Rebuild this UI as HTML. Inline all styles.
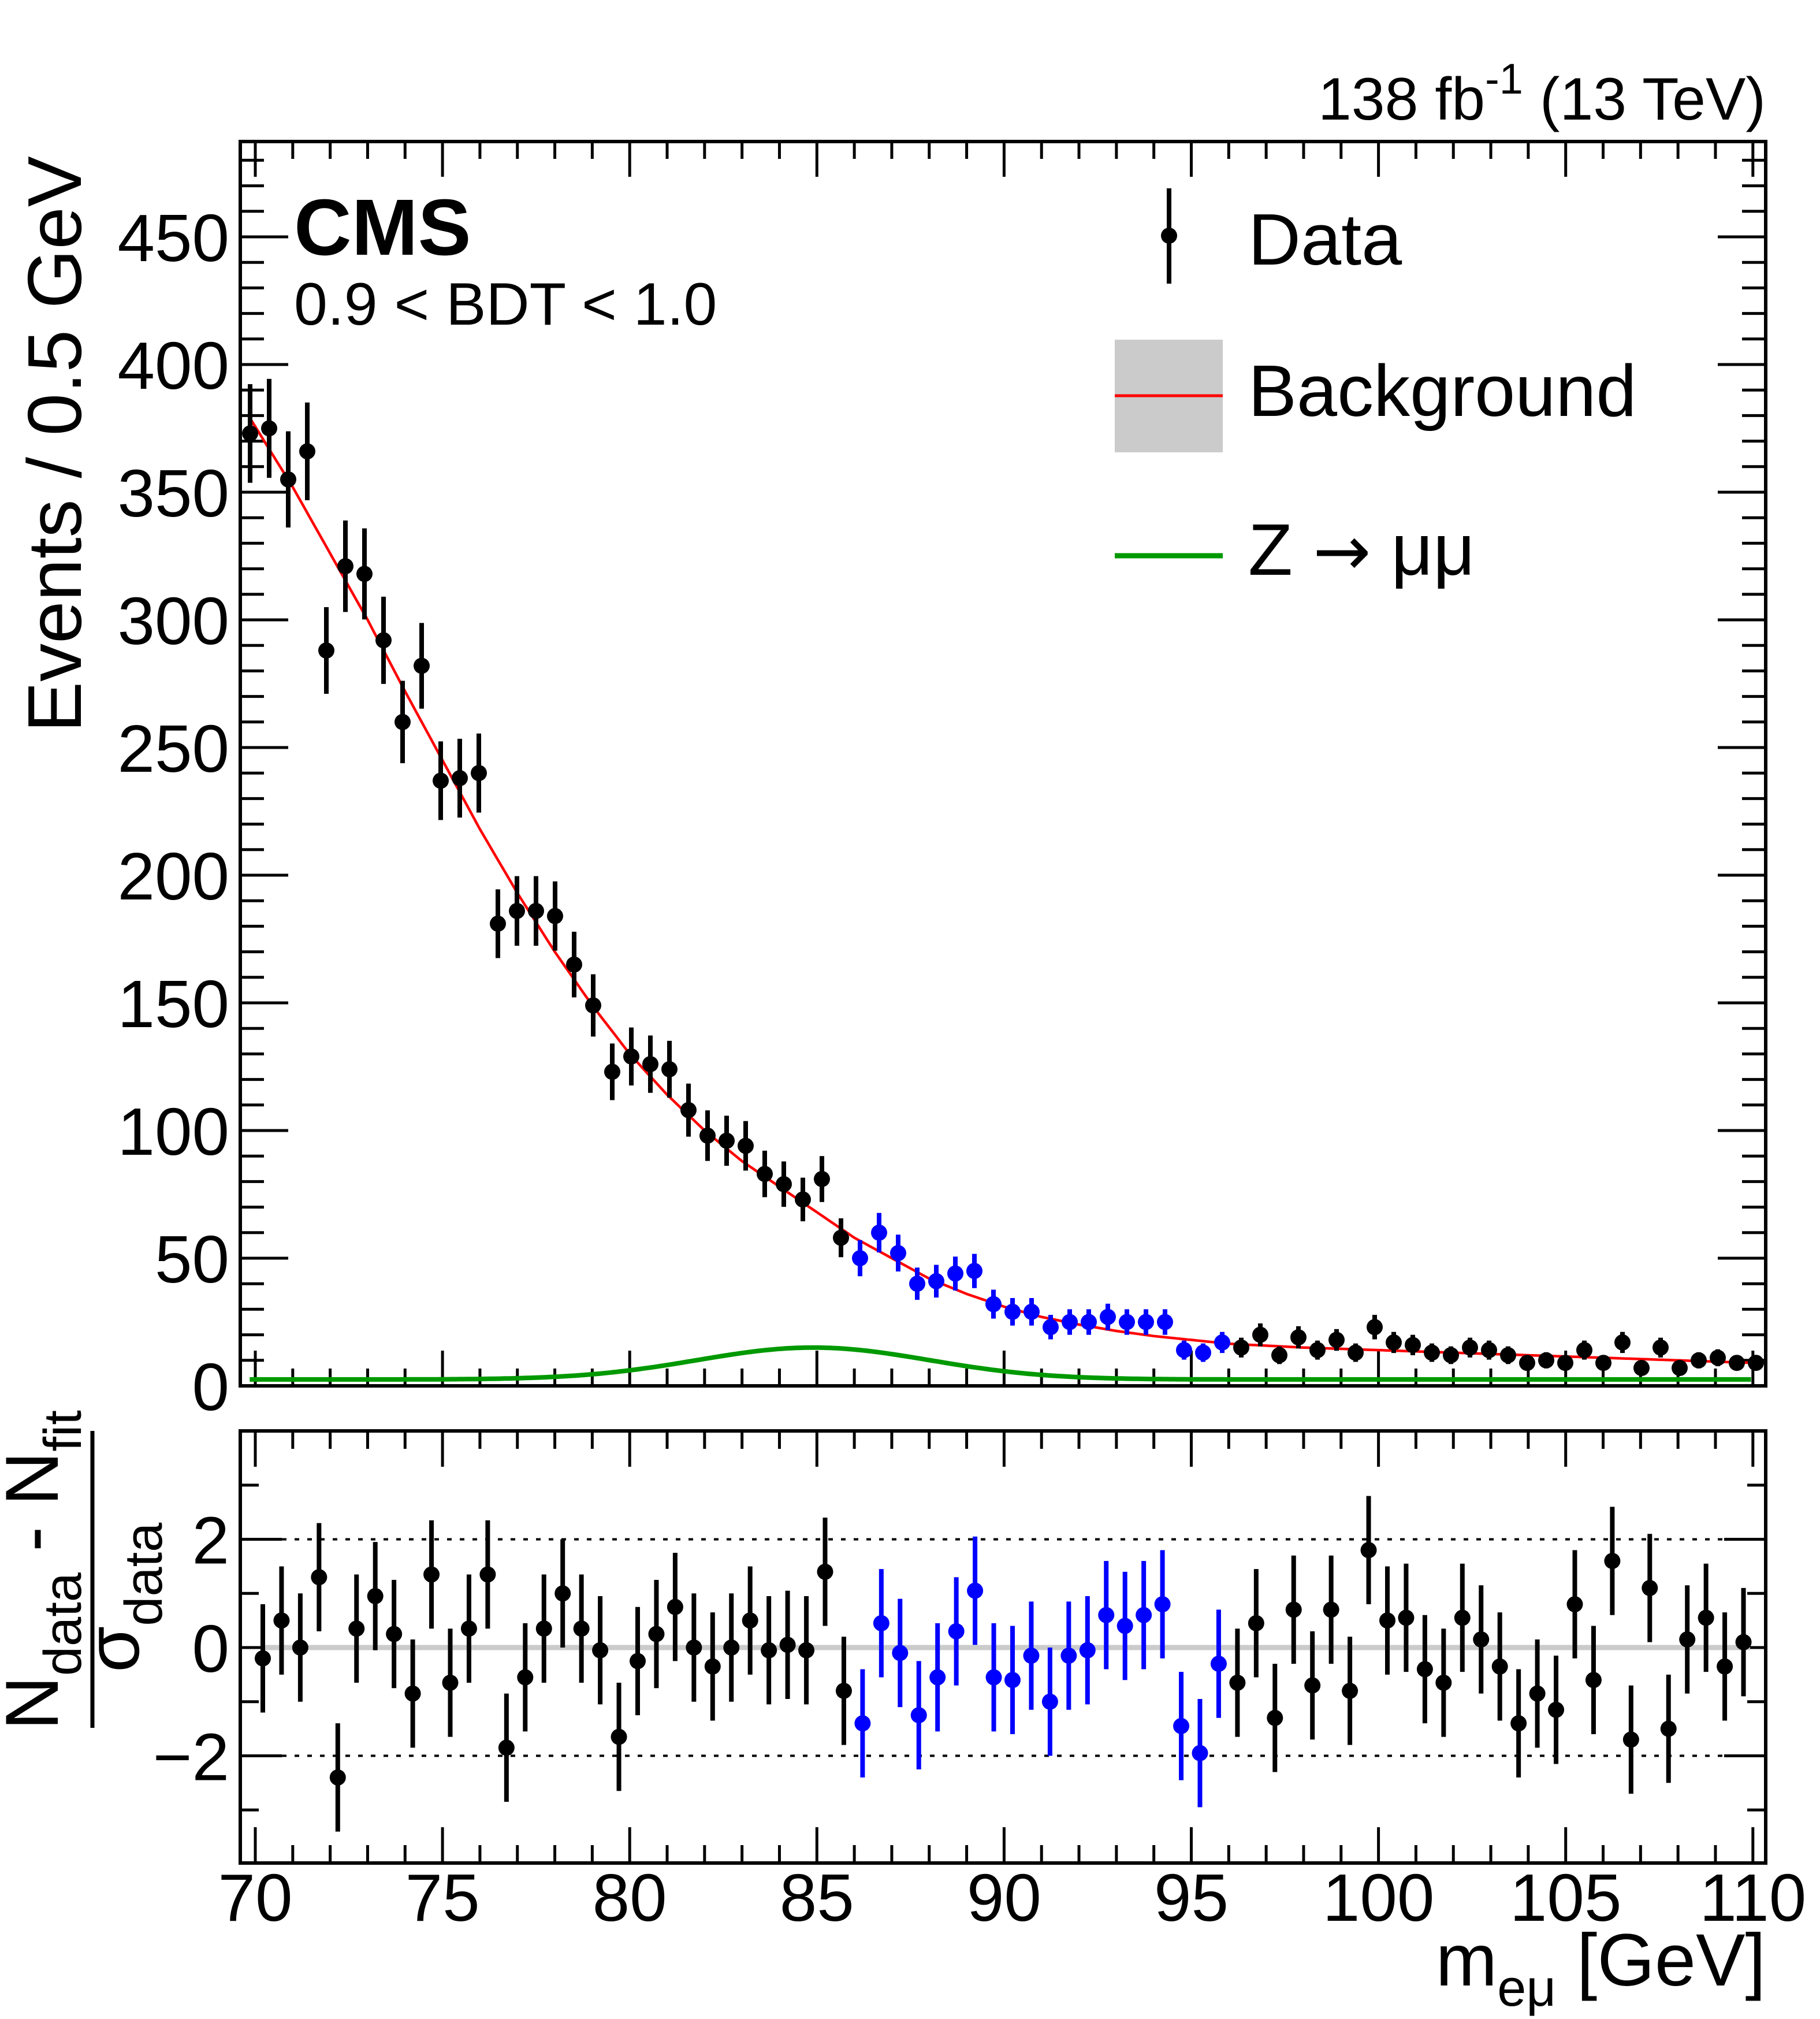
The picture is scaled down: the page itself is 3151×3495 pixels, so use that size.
<!DOCTYPE html>
<html><head><meta charset="utf-8"><style>html,body{margin:0;padding:0;background:#fff}svg{display:block}text{font-family:"Liberation Sans",sans-serif}</style></head>
<body>
<svg id="s" width="3151" height="3495" viewBox="0 0 3151 3495" xmlns="http://www.w3.org/2000/svg">
<rect width="3151" height="3495" fill="#fff"/>
<g id="g"></g>
<text x="3057" y="207" font-size="104" text-anchor="end">138 fb<tspan dy="-45" font-size="74">-1</tspan><tspan dy="45"> (13 TeV)</tspan></text>
<text x="509" y="441" font-size="138" font-weight="bold">CMS</text>
<text x="509" y="562" font-size="104">0.9 &lt; BDT &lt; 1.0</text>
<line x1="2024" y1="326" x2="2024" y2="491" stroke="#000" stroke-width="8"/>
<circle cx="2024" cy="408" r="14"/>
<text x="2161" y="458" font-size="126">Data</text>
<rect x="1930" y="588" width="187" height="195" fill="#cbcbcb"/>
<line x1="1930" y1="685" x2="2117" y2="685" stroke="#f00" stroke-width="5"/>
<text x="2161" y="720" font-size="126">Background</text>
<line x1="1930" y1="962" x2="2117" y2="962" stroke="#009900" stroke-width="9"/>
<text x="2161" y="995" font-size="126">Z <tspan font-family="DejaVu Sans" font-size="120">→</tspan> μμ</text>
<text transform="translate(140,1268) rotate(-90)" font-size="132" x="0" y="0">Events / 0.5 GeV</text>
<text transform="translate(100,2995) rotate(-90)" font-size="130">N<tspan font-size="92" dy="40">data</tspan><tspan dy="-40"> - N</tspan><tspan font-size="92" dy="40">fit</tspan></text>
<line x1="160" y1="2477" x2="160" y2="2991" stroke="#000" stroke-width="7"/>
<text transform="translate(240,2895) rotate(-90)" font-size="130">σ<tspan font-size="92" dy="40">data</tspan></text>
<text x="3057" y="3437" font-size="128" text-anchor="end">m<tspan font-size="90" dy="35">eμ</tspan><tspan dy="-35"> [GeV]</tspan></text>
</svg>
<script>
var g=document.getElementById('g'),h='';
function L(a,b,c,d,w,col,extra){h+='<line x1="'+a+'" y1="'+b+'" x2="'+c+'" y2="'+d+'" stroke="'+(col||'#000')+'" stroke-width="'+(w||6)+'" '+(extra||'')+'/>';}
function T(x,y,s,anchor,fs){h+='<text x="'+x+'" y="'+y+'" font-size="'+(fs||116)+'" text-anchor="'+anchor+'">'+s+'</text>';}
var X0=416,X1=3057,UT=245,UB=2399,LT=2477,LB=3225;
function gx(m){return 442+(m-70)*64.82;}
function uy(v){return 2399-v*4.42;}
function ly(r){return 2852-r*93.7;}
h+='<rect x="'+X0+'" y="'+UT+'" width="'+(X1-X0)+'" height="'+(UB-UT)+'" fill="none" stroke="#000" stroke-width="6"/>';
h+='<rect x="'+X0+'" y="'+LT+'" width="'+(X1-X0)+'" height="'+(LB-LT)+'" fill="none" stroke="#000" stroke-width="6"/>';
for(var m=70;m<=110;m++){var x=gx(m),big=m%5==0,l=big?61:30;
 L(x,UB,x,UB-l,5);L(x,UT,x,UT+l,5);
 var l2=big?62:31;L(x,LB,x,LB-l2,5);L(x,LT,x,LT+l2,5);
 if(big)T(x,3325,m,'middle',116);}
for(var v=0;v<=480;v+=10){var y=uy(v),big=v%50==0,l=big?83:41;L(X0,y,X0+l,y,5);L(X1,y,X1-l,y,5);
 if(big&&v<=450)T(397,y+42,v,'end',116);}
for(var r=-3;r<=3;r++){var y=ly(r),big=r%2==0,l=big?72:32;L(X0,y,X0+l,y,5);L(X1,y,X1-l,y,5);
 if(big)T(397,y+42,r<0?'−'+(-r):r,'end',116);}
L(X0+72,ly(2),X1,ly(2),4,'#000','stroke-dasharray="8 14"');
L(X0+72,ly(-2),X1,ly(-2),4,'#000','stroke-dasharray="8 14"');
L(X0+72,ly(0),X1,ly(0),3,'#000','stroke-dasharray="8 14"');
L(455,ly(0),3030,ly(0),9,'#cbcbcb');
function ux(k){return 433+33.0*k;}
function um(k){return 70+(ux(k)-442)/64.82;}
var kn=[[69.9,378],[71,352],[72,326],[73,300],[74,272],[75,245],[76,218],[77,193],[78,170],[79,149],[80,130],[81,114],[82,100],[83,88],[84,78],[85,68],[86,58],[87,50],[88,42],[89,36],[90,31],[91,27],[92,24],[93,21.5],[94,19.5],[96,16.5],[98,15],[100,14],[103,12.5],[106,11],[110,9]];
function interp(m){for(var i=0;i<kn.length-1;i++){if(m<=kn[i+1][0]){var t=(m-kn[i][0])/(kn[i+1][0]-kn[i][0]);return kn[i][1]+t*(kn[i+1][1]-kn[i][1]);}}return kn[kn.length-1][1];}
var p='',q='';
for(var m=69.9;m<=110.01;m+=0.1){var v=interp(m);p+=gx(m).toFixed(1)+','+uy(v).toFixed(1)+' ';}
for(var m=69.85;m<=110.01;m+=0.1){var z=2.5+12.5*Math.exp(-Math.pow(m-84.9,2)/(2*3.1*3.1));q+=gx(m).toFixed(1)+','+uy(z).toFixed(1)+' ';}
h+='<polyline points="'+p+'" fill="none" stroke="#f00" stroke-width="4.5"/>';
h+='<polyline points="'+q+'" fill="none" stroke="#009900" stroke-width="8"/>';
var U=[373,375,355,366,288,321,318,292,260,282,237,238,240,181,186,186,184,165,149,123,129,126,124,108,98,96,94,83,79,73,81,58,50,60,52,40,41,44,45,32,29,29,23,25,25,27,25,25,25,14,13,17,15,20,12,19,14,18,13,23,17,16,13,12,15,14,12,9,10,9,14,9,17,7,15,7,10,11,9,9];
var R=[-0.2,0.5,0,1.3,-2.4,0.35,0.95,0.25,-0.85,1.35,-0.65,0.35,1.35,-1.85,-0.55,0.35,1.0,0.35,-0.05,-1.65,-0.25,0.25,0.75,0,-0.35,0,0.5,-0.05,0.05,-0.05,1.4,-0.8,-1.4,0.45,-0.1,-1.25,-0.55,0.3,1.05,-0.55,-0.6,-0.15,-1.0,-0.15,-0.05,0.6,0.4,0.6,0.8,-1.45,-1.95,-0.3,-0.65,0.45,-1.3,0.7,-0.7,0.7,-0.8,1.8,0.5,0.55,-0.4,-0.65,0.55,0.15,-0.35,-1.4,-0.85,-1.15,0.8,-0.6,1.6,-1.7,1.1,-1.5,0.15,0.55,-0.35,0.1];
for(var k=0;k<80;k++){var col=(k>=32&&k<=51)?'#0000ff':'#000';
 var x=ux(k),v=U[k],e=Math.sqrt(v);
 L(x,uy(v+e),x,uy(v-e),8,col);h+='<circle cx="'+x+'" cy="'+uy(v)+'" r="14" fill="'+col+'"/>';
 var x2=455+32.45*k,r=R[k];
 L(x2,ly(r+1),x2,ly(r-1),8,col);h+='<circle cx="'+x2+'" cy="'+ly(r)+'" r="14" fill="'+col+'"/>';}
g.innerHTML=h;
</script>
</body></html>
